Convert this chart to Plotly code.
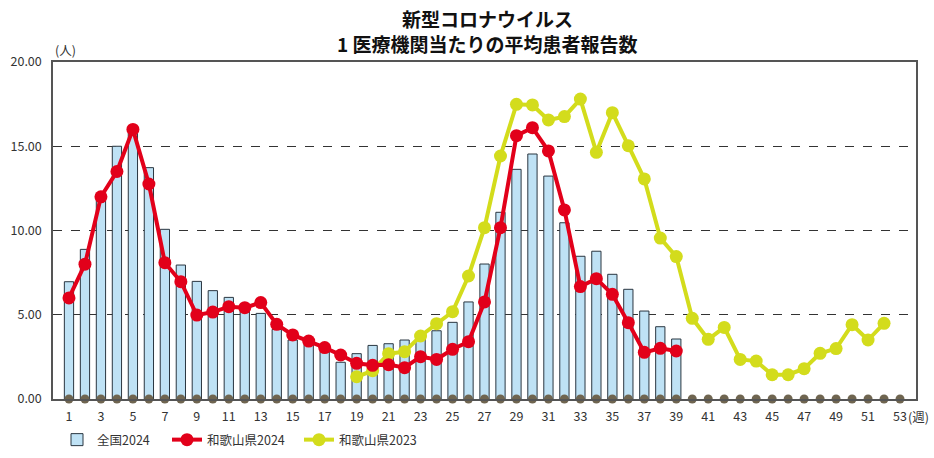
import plotly.graph_objects as go

weeks_all = list(range(1, 54))
weeks_2024 = list(range(1, 40))
weeks_2023 = list(range(19, 53))

national_2024 = [6.96, 8.88, 11.9, 15.0, 15.8, 13.73, 10.07, 7.95, 6.98, 6.43,
                 6.03, 5.6, 5.08, 4.13, 3.5, 3.3, 2.9, 2.18, 2.69, 3.18,
                 3.28, 3.5, 3.65, 4.05, 4.55, 5.76, 8.01, 11.08, 13.63, 14.54,
                 13.23, 10.46, 8.47, 8.77, 7.40, 6.51, 5.22, 4.29, 3.56]

wakayama_2024 = [6.0, 8.0, 12.0, 13.5, 16.0, 12.76, 8.09, 6.96, 4.98, 5.16,
                 5.48, 5.42, 5.72, 4.43, 3.80, 3.44, 3.05, 2.61, 2.12, 2.0,
                 2.04, 1.86, 2.51, 2.35, 2.95, 3.40, 5.76, 10.17, 15.63, 16.1,
                 14.72, 11.22, 6.67, 7.14, 6.21, 4.53, 2.77, 3.01, 2.85]

wakayama_2023 = [1.32, 1.68, 2.69, 2.81, 3.74, 4.47, 5.18, 7.30, 10.17, 14.42,
                 17.49, 17.45, 16.56, 16.76, 17.80, 14.64, 16.99, 15.03, 13.06, 9.55,
                 8.45, 4.79, 3.54, 4.25, 2.35, 2.25, 1.44, 1.44, 1.80, 2.71,
                 2.99, 4.41, 3.50, 4.49]

zero_line = [0] * len(weeks_all)

x_tick_vals = list(range(1, 54, 2))
x_tick_text = [str(v) for v in x_tick_vals]
y_tick_vals = [0, 5, 10, 15, 20]
y_tick_text = ["0.00", "5.00", "10.00", "15.00", "20.00"]

FONT = "Noto Sans CJK JP"
TXT = "#333333"

fig = go.Figure()
fig.add_trace(go.Bar(
    x=weeks_2024, y=national_2024, name="全国2024", width=0.58,
    marker=dict(color="#bfe2f5", line=dict(color="#2a3640", width=1)),
    legend="legend",
))
fig.add_trace(go.Scatter(
    x=weeks_all, y=zero_line, mode="markers", showlegend=False,
    marker=dict(color="#6f6550", size=9), cliponaxis=False, hoverinfo="skip",
))
fig.add_trace(go.Scatter(
    x=weeks_2023, y=wakayama_2023, name="和歌山県2023", mode="lines+markers",
    line=dict(color="#d3dc1c", width=4), marker=dict(color="#d3dc1c", size=13),
    legend="legend3",
))
fig.add_trace(go.Scatter(
    x=weeks_2024, y=wakayama_2024, name="和歌山県2024", mode="lines+markers",
    line=dict(color="#e2001a", width=4), marker=dict(color="#e2001a", size=13),
    legend="legend2",
))

def leg(xpx):
    return dict(orientation="h", xref="container", yref="container",
                x=xpx / 934, xanchor="left", y=18 / 458, yanchor="middle",
                font=dict(family=FONT, size=12.5, color=TXT),
                itemwidth=30, bgcolor="rgba(0,0,0,0)", borderwidth=0)

fig.update_layout(
    width=934, height=458,
    margin=dict(l=53, r=18, t=62, b=59, autoexpand=False),
    paper_bgcolor="white", plot_bgcolor="white",
    font=dict(family=FONT, size=12.5, color=TXT),
    bargap=0.4,
    showlegend=True,
    hovermode=False,
    legend=leg(57),
    legend2=leg(167),
    legend3=leg(299),
    xaxis=dict(range=[0, 54], tickmode="array", tickvals=x_tick_vals, ticktext=x_tick_text,
               showgrid=False, zeroline=False, showline=True, mirror=True, automargin=False,
               linecolor="#555555", linewidth=1.5, ticks="", ticklabelstandoff=5,
               tickfont=dict(size=12.5, color=TXT)),
    yaxis=dict(range=[0, 20], tickmode="array", tickvals=y_tick_vals, ticktext=y_tick_text,
               showgrid=True, gridcolor="#333333", griddash="dash", gridwidth=1,
               zeroline=False, showline=True, mirror=True, automargin=False,
               linecolor="#555555", linewidth=1.5, ticks="", ticklabelstandoff=7,
               tickfont=dict(size=12.5, color=TXT)),
    annotations=[
        dict(text="<b>新型コロナウイルス</b>", xref="paper", yref="paper",
             x=0.503, y=(399 - 19) / 337, xanchor="center", yanchor="middle",
             showarrow=False, font=dict(family=FONT, size=19, color="#111111")),
        dict(text="<b>1 医療機関当たりの平均患者報告数</b>", xref="paper", yref="paper",
             x=0.503, y=(399 - 44) / 337, xanchor="center", yanchor="middle",
             showarrow=False, font=dict(family=FONT, size=19, color="#111111")),
        dict(text="(人)", xref="paper", yref="paper", x=0, y=1, xanchor="left",
             yanchor="bottom", xshift=0, yshift=1, showarrow=False,
             font=dict(family=FONT, size=12.5, color=TXT)),
        dict(text="(週)", xref="x", yref="paper", x=53, y=0, xanchor="left",
             yanchor="middle", xshift=6, yshift=-17, showarrow=False,
             font=dict(family=FONT, size=12.5, color=TXT)),
    ],
)

fig.write_html("out.html", post_script="document.body.style.margin='0';",
               config={"displayModeBar": False})
